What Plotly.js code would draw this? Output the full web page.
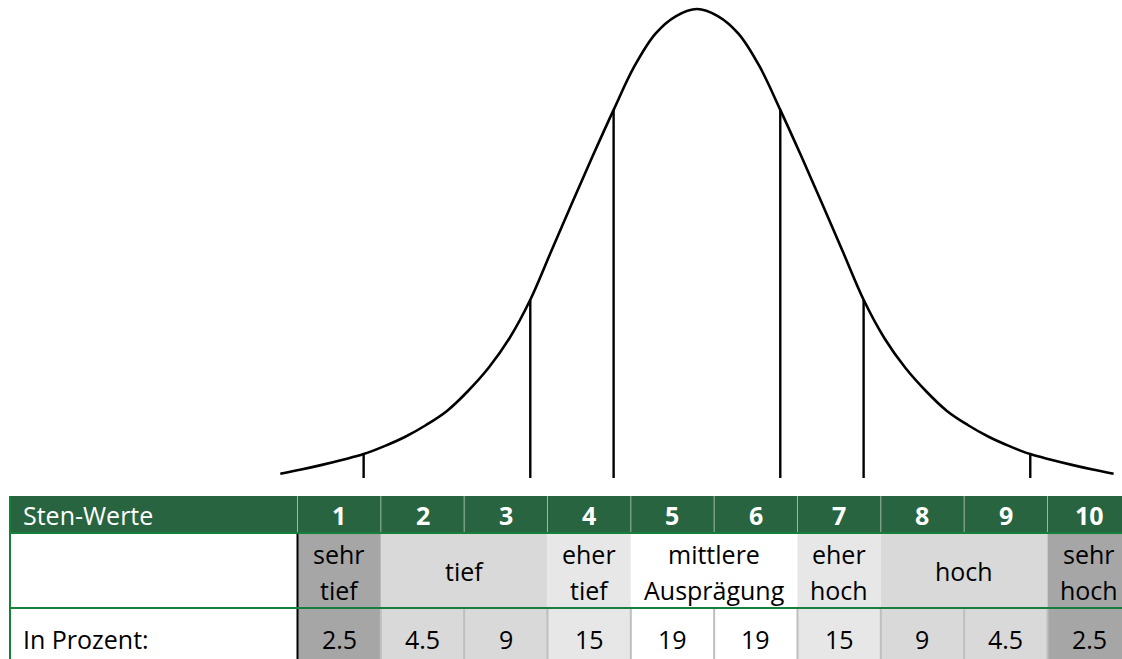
<!DOCTYPE html>
<html lang="de">
<head>
    <meta charset="UTF-8">
    <title>Sten-Werte Normalverteilung</title>
    <script src="https://cdn.plot.ly/plotly-3.0.1.min.js"></script>
    <style>
        html, body { margin: 0; padding: 0; background: white; }
        #chart { width: 1122px; height: 659px; }
    </style>
</head>
<body>
    <div id="chart"></div>

    <script>
        // Tabelle
        const stenWerte = [1, 2, 3, 4, 5, 6, 7, 8, 9, 10];
        const prozent = ['2.5', '4.5', '9', '15', '19', '19', '15', '9', '4.5', '2.5'];
        const kategorien = ['sehr<br>tief', 'tief', 'eher<br>tief', 'mittlere<br>Ausprägung', 'eher<br>hoch', 'hoch', 'sehr<br>hoch'];
        const katVon = [1, 2, 4, 5, 7, 8, 10];
        const katBis = [1, 3, 4, 6, 7, 9, 10];
        const katFarben = ['#a6a6a6', '#d9d9d9', '#e7e7e7', '#ffffff', '#e7e7e7', '#d9d9d9', '#a6a6a6'];

        // Glockenkurve (Hoehe in % des Maximums)
        const kurveSten = [0.5, 0.75, 1.0, 1.25, 1.5, 1.75, 2.0, 2.25, 2.5, 2.75, 3.0, 3.25, 3.5, 3.75, 4.0, 4.25, 4.5, 4.75, 5.0, 5.25,
                           5.5, 5.75, 6.0, 6.25, 6.5, 6.75, 7.0, 7.25, 7.5, 7.75, 8.0, 8.25, 8.5, 8.75, 9.0, 9.25, 9.5, 9.75, 10.0, 10.25, 10.5];
        const kurveHoehe = [0.9, 1.8, 2.8, 3.9, 5.1, 6.8, 8.8, 11.3, 14.3, 18.5, 23.5, 29.8, 38.0, 48.3, 58.6, 68.7, 78.5, 87.8, 94.7, 98.5,
                            100, 98.5, 94.7, 87.8, 78.5, 68.7, 58.6, 48.3, 38.0, 29.8, 23.5, 18.5, 14.3, 11.3, 8.8, 6.8, 5.1, 3.9, 2.8, 1.8, 0.9];

        // senkrechte Linien an den Klassengrenzen
        const grenzenSten = [1.5, 3.5, 4.5, 6.5, 7.5, 9.5];
        const grenzenHoehe = [5.1, 38.0, 78.5, 78.5, 38.0, 5.1];

        const W = 1122, H = 659;
        const py = px => 1 - px / H;          // Pixelzeile -> paper y
        const pxX = px => px / W;             // Pixelspalte -> paper x
        const kopfOben = py(496), kopfUnten = py(533), zeile2Unten = py(608);
        const links = pxX(10);
        const gruen = '#28643f', linieGruen = '#14803c';

        const gx = [], gy = [];
        grenzenSten.forEach((s, i) => { gx.push(s, s, null); gy.push(0, grenzenHoehe[i], null); });

        const traces = [
            {
                x: kurveSten, y: kurveHoehe, xaxis: 'x2', yaxis: 'y',
                mode: 'lines', line: { color: 'black', width: 2.6, shape: 'spline', smoothing: 1.0 },
                hoverinfo: 'skip', showlegend: false
            },
            {
                x: gx, y: gy, xaxis: 'x2', yaxis: 'y',
                mode: 'lines', line: { color: 'black', width: 2.4 },
                hoverinfo: 'skip', showlegend: false
            }
        ];

        const shapes = [];
        // Kopfzeile
        shapes.push({ type: 'rect', xref: 'paper', yref: 'paper', x0: links, x1: 1, y0: kopfUnten, y1: kopfOben,
            fillcolor: gruen, line: { width: 0 }, layer: 'below' });
        // Kategorie-Zellen (Zeile 2 und 3)
        katVon.forEach((v, i) => {
            shapes.push({ type: 'rect', xref: 'x', yref: 'paper', x0: v - 0.5, x1: katBis[i] + 0.5, y0: 0, y1: kopfUnten,
                fillcolor: katFarben[i], line: { width: 0 }, layer: 'below' });
        });
        // Trennlinien
        stenWerte.forEach(s => {
            shapes.push({ type: 'line', xref: 'x', yref: 'paper', x0: s - 0.5, x1: s - 0.5, y0: kopfUnten, y1: kopfOben,
                line: { color: 'rgba(255,255,255,0.55)', width: 1 } });
            if (s > 1) {
                shapes.push({ type: 'line', xref: 'x', yref: 'paper', x0: s - 0.5, x1: s - 0.5, y0: 0, y1: zeile2Unten,
                    line: { color: '#bfbfbf', width: 2 } });
            }
        });
        shapes.push({ type: 'line', xref: 'x', yref: 'paper', x0: 0.5, x1: 0.5, y0: 0, y1: kopfUnten,
            line: { color: 'black', width: 2 } });
        [kopfUnten, zeile2Unten].forEach(y => {
            shapes.push({ type: 'line', xref: 'paper', yref: 'paper', x0: links, x1: 1, y0: y, y1: y,
                line: { color: linieGruen, width: 2 } });
        });
        shapes.push({ type: 'line', xref: 'paper', yref: 'paper', x0: links, x1: links, y0: 0, y1: kopfOben,
            line: { color: linieGruen, width: 2 } });

        const schrift = 'Open Sans, Noto Sans, sans-serif';
        const gross = 25;
        const annotations = [];
        const kopfMitte = py(515);
        const zeile2Mitte = py(571);
        const zeile3Mitte = py(639);
        annotations.push({ xref: 'paper', yref: 'paper', x: pxX(21), y: kopfMitte, xanchor: 'left', yanchor: 'middle',
            text: 'Sten-Werte', showarrow: false, font: { family: schrift, size: gross, color: 'white' } });
        annotations.push({ xref: 'paper', yref: 'paper', x: pxX(21), y: zeile3Mitte, xanchor: 'left', yanchor: 'middle',
            text: 'In Prozent:', showarrow: false, font: { family: schrift, size: gross, color: 'black' } });
        stenWerte.forEach((s, i) => {
            annotations.push({ xref: 'x', yref: 'paper', x: s, y: kopfMitte, yanchor: 'middle',
                text: '<b>' + s + '</b>', showarrow: false, font: { family: schrift, size: gross, color: 'white' } });
            annotations.push({ xref: 'x', yref: 'paper', x: s, y: zeile3Mitte, yanchor: 'middle',
                text: prozent[i], showarrow: false, font: { family: schrift, size: gross, color: 'black' } });
        });
        kategorien.forEach((k, i) => {
            const zeilen = k.split('<br>');
            const mitte = (katVon[i] + katBis[i]) / 2;
            const ys = zeilen.length === 1 ? [zeile2Mitte] : [py(554), py(590)];
            zeilen.forEach((t, j) => {
                annotations.push({ xref: 'x', yref: 'paper', x: mitte, y: ys[j], yanchor: 'middle',
                    text: t, showarrow: false, font: { family: schrift, size: gross, color: 'black' } });
            });
        });

        // 83.33 px je Sten-Wert, Spalte 1 beginnt bei x = 297.5 px
        const spalte = 83.33, start = 297.5;
        const xMin = 0.5 - start / spalte, xMax = 0.5 + (W - start) / spalte;
        const versatz = 17.2 / spalte;   // Kurve sitzt etwas links von der Tabelle

        const achse = { visible: false, showgrid: false, zeroline: false, fixedrange: true };
        const layout = {
            width: W, height: H,
            margin: { l: 0, r: 0, t: 0, b: 0 },
            paper_bgcolor: 'white', plot_bgcolor: 'rgba(0,0,0,0)',
            xaxis: Object.assign({}, achse, { range: [xMin, xMax] }),
            xaxis2: Object.assign({}, achse, { range: [xMin + versatz, xMax + versatz], overlaying: 'x' }),
            yaxis: Object.assign({}, achse, { range: [-38.59, 101.92] }),
            shapes: shapes,
            annotations: annotations,
            showlegend: false
        };

        Plotly.newPlot('chart', traces, layout, { displayModeBar: false, staticPlot: true });
    </script>
</body>
</html>
